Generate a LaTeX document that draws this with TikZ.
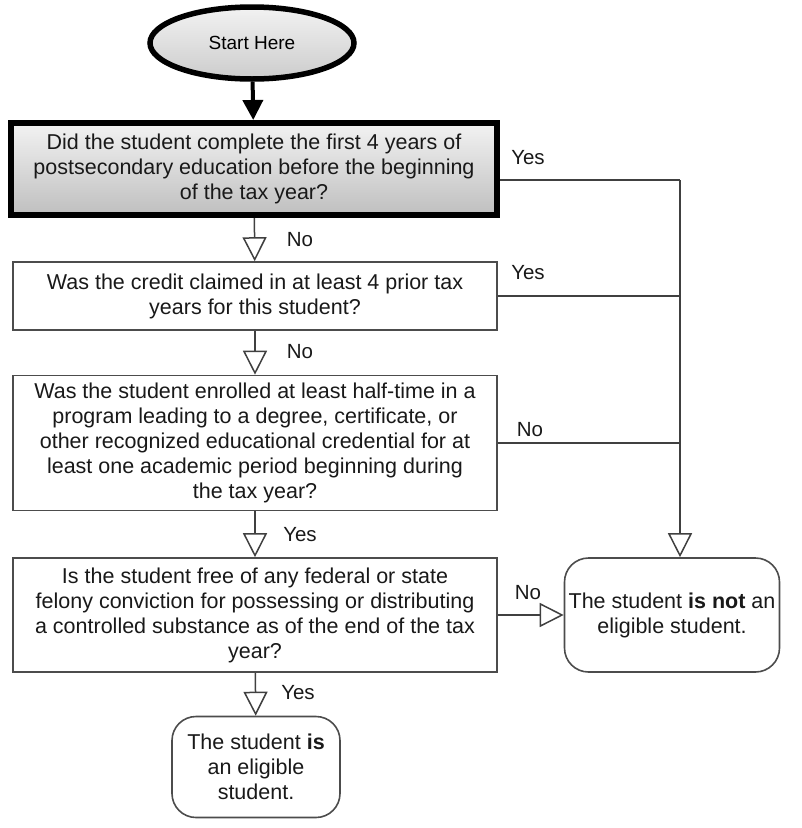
\documentclass[tikz,border=0pt]{standalone}
\usepackage{fontspec}
\setmainfont{Liberation Sans}
\usetikzlibrary{shapes.geometric,arrows.meta}

\begin{document}
\begin{tikzpicture}[x=1pt,y=-1pt,
  txt/.style={font=\fontsize{21.5}{25}\selectfont,align=center,text=black!90},
  question/.style={txt,draw=black!70,line width=1.6pt,fill=white,rectangle,
    minimum width=484,inner sep=0pt},
  answer/.style={txt,draw=black!70,line width=1.6pt,fill=white,rectangle,
    rounded corners=24pt,inner sep=0pt},
  link/.style={draw=black!75,line width=1.5pt},
  openarr/.style={link,-{Triangle[open,length=24pt,width=24pt,fill=white]}},
  lbl/.style={font=\fontsize{20.5}{22}\selectfont,text=black!90,inner sep=0pt}]
\useasboundingbox (0,0) rectangle (802,828);

% start
\node[ellipse,draw=black,line width=5.5pt,minimum width=204,minimum height=72,
  top color=gray!10,bottom color=gray!40,font=\fontsize{19}{21}\selectfont]
  (start) at (252,43) {Start Here};

% vragen
\node[question,minimum width=486,minimum height=92,line width=6pt,draw=black,
  top color=gray!10,bottom color=gray!50] (q1) at (254,169)
  {Did the student complete the first 4 years of\\
   postsecondary education before the beginning\\
   of the tax year?};
\node[question,minimum height=68] (q2) at (255,296)
  {Was the credit claimed in at least 4 prior tax\\
   years for this student?};
\node[question,minimum height=135] (q3) at (255,443)
  {Was the student enrolled at least half-time in a\\
   program leading to a degree, certificate, or\\
   other recognized educational credential for at\\
   least one academic period beginning during\\
   the tax year?};
\node[question,minimum height=114] (q4) at (255,615)
  {Is the student free of any federal or state\\
   felony conviction for possessing or distributing\\
   a controlled substance as of the end of the tax\\
   year?};

% uitkomsten
\node[answer,minimum width=168,minimum height=101] (yes) at (256,767)
  {The student \textbf{is}\\ an eligible\\ student.};
\node[answer,minimum width=215,minimum height=114] (no) at (672,615)
  {The student \textbf{is not} an\\ eligible student.};

% pijlen omlaag
\draw[line width=4pt,-{Triangle[length=20pt,width=20pt]}] (start) -- (q1);
\draw[openarr] (q1) -- (q2);
\draw[openarr] (q2) -- (q3);
\draw[openarr] (q3) -- (q4);
\draw[openarr] (q4) -- (yes);
\draw[openarr] (q4) -- (no);

% rechts
\coordinate (bus) at (680,180);
\draw[link] ([yshift=-11pt]q1.east) -- (bus);
\foreach \q in {q2,q3} {
\draw[link] (\q.east) -- (\q.east -| bus);
}
\draw[openarr] (bus) -- (bus |- no.north);

% labels
\node[lbl] (l1) at (528,158) {Yes};
\node[lbl] (l2) at (528,273) {Yes};
\node[lbl] (l3) at (530,430) {No};
\node[lbl] (l4) at (528,593) {No};
\node[lbl] (l5) at (300,240) {No};
\node[lbl] (l6) at (300,352) {No};
\node[lbl] (l7) at (300,535) {Yes};
\node[lbl] (l8) at (298,693) {Yes};

\end{tikzpicture}
\end{document}
